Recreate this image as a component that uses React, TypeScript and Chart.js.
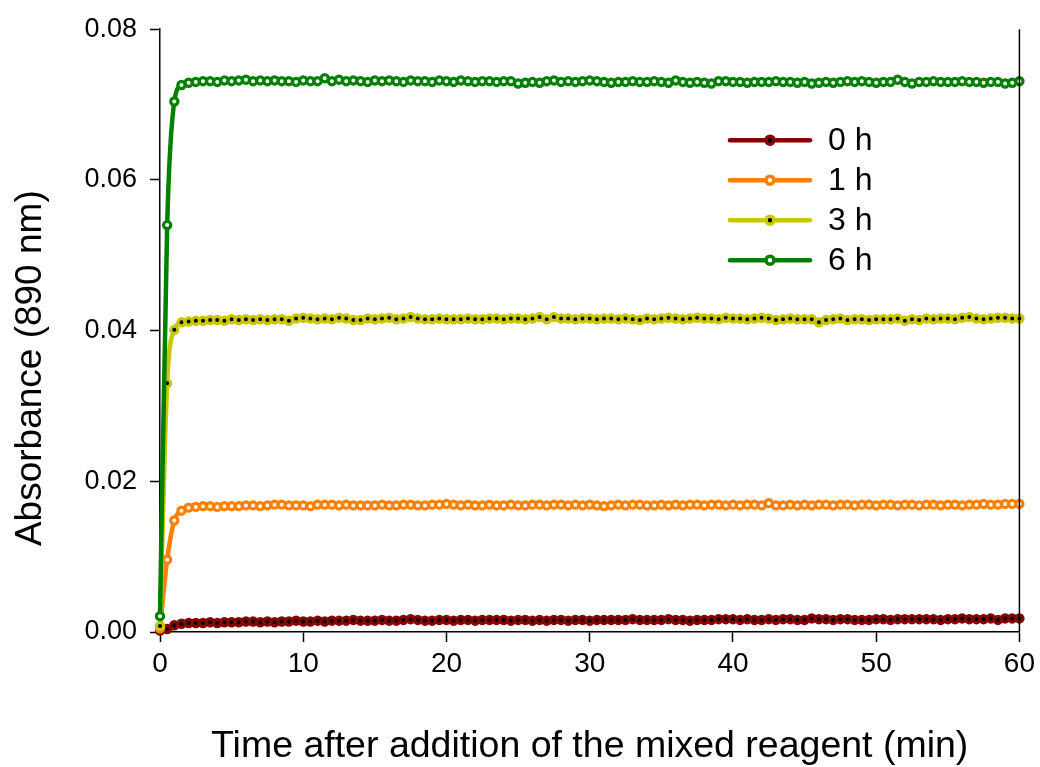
import React, { useEffect, useRef } from "react";
import { Chart, registerables } from "chart.js";

Chart.register(...registerables);

const times: number[] = [
  0, 0.5, 1, 1.5, 2, 2.5, 3, 3.5, 4, 4.5,
  5, 5.5, 6, 6.5, 7, 7.5, 8, 8.5, 9, 9.5,
  10, 10.5, 11, 11.5, 12, 12.5, 13, 13.5, 14, 14.5,
  15, 15.5, 16, 16.5, 17, 17.5, 18, 18.5, 19, 19.5,
  20, 20.5, 21, 21.5, 22, 22.5, 23, 23.5, 24, 24.5,
  25, 25.5, 26, 26.5, 27, 27.5, 28, 28.5, 29, 29.5,
  30, 30.5, 31, 31.5, 32, 32.5, 33, 33.5, 34, 34.5,
  35, 35.5, 36, 36.5, 37, 37.5, 38, 38.5, 39, 39.5,
  40, 40.5, 41, 41.5, 42, 42.5, 43, 43.5, 44, 44.5,
  45, 45.5, 46, 46.5, 47, 47.5, 48, 48.5, 49, 49.5,
  50, 50.5, 51, 51.5, 52, 52.5, 53, 53.5, 54, 54.5,
  55, 55.5, 56, 56.5, 57, 57.5, 58, 58.5, 59, 59.5,
  60,
];

const h0: number[] = [
  0.0002, 0.0004, 0.0009, 0.0011, 0.0012, 0.0012, 0.0012, 0.0013, 0.0012, 0.0013,
  0.0013, 0.0013, 0.0014, 0.0014, 0.0013, 0.0014, 0.0013, 0.0014, 0.0014, 0.0015,
  0.0014, 0.0014, 0.0015, 0.0014, 0.0015, 0.0015, 0.0015, 0.0016, 0.0015, 0.0015,
  0.0015, 0.0016, 0.0015, 0.0015, 0.0016, 0.0017, 0.0016, 0.0015, 0.0015, 0.0016,
  0.0016, 0.0015, 0.0016, 0.0016, 0.0015, 0.0016, 0.0016, 0.0016, 0.0016, 0.0015,
  0.0016, 0.0016, 0.0015, 0.0016, 0.0015, 0.0016, 0.0016, 0.0015, 0.0016, 0.0016,
  0.0015, 0.0016, 0.0016, 0.0016, 0.0016, 0.0016, 0.0017, 0.0016, 0.0016, 0.0016,
  0.0016, 0.0017, 0.0016, 0.0016, 0.0015, 0.0016, 0.0016, 0.0016, 0.0017, 0.0017,
  0.0017, 0.0016, 0.0017, 0.0016, 0.0016, 0.0017, 0.0016, 0.0017, 0.0017, 0.0016,
  0.0016, 0.0018, 0.0017, 0.0017, 0.0016, 0.0017, 0.0017, 0.0016, 0.0016, 0.0016,
  0.0017, 0.0017, 0.0016, 0.0017, 0.0017, 0.0017, 0.0017, 0.0017, 0.0017, 0.0016,
  0.0017, 0.0017, 0.0018, 0.0017, 0.0017, 0.0017, 0.0018, 0.0016, 0.0018, 0.0018,
  0.0018,
];

const h1: number[] = [
  0.0005, 0.0096, 0.0148, 0.0161, 0.0165, 0.0166, 0.0167, 0.0167, 0.0166, 0.0167,
  0.0167, 0.0167, 0.0168, 0.0168, 0.0167, 0.0168, 0.0169, 0.0169, 0.0168, 0.0168,
  0.0168, 0.0167, 0.0169, 0.0169, 0.0169, 0.0168, 0.0169, 0.0168, 0.0168, 0.0168,
  0.0168, 0.0169, 0.0168, 0.0168, 0.0169, 0.0169, 0.0168, 0.0168, 0.0169, 0.0169,
  0.0170, 0.0169, 0.0168, 0.0169, 0.0168, 0.0168, 0.0169, 0.0168, 0.0168, 0.0169,
  0.0168, 0.0168, 0.0169, 0.0169, 0.0168, 0.0169, 0.0169, 0.0168, 0.0169, 0.0168,
  0.0169, 0.0168, 0.0167, 0.0168, 0.0169, 0.0168, 0.0169, 0.0169, 0.0168, 0.0168,
  0.0169, 0.0168, 0.0169, 0.0168, 0.0169, 0.0169, 0.0168, 0.0169, 0.0169, 0.0168,
  0.0169, 0.0168, 0.0169, 0.0169, 0.0168, 0.0171, 0.0168, 0.0168, 0.0169, 0.0168,
  0.0169, 0.0168, 0.0169, 0.0169, 0.0168, 0.0169, 0.0169, 0.0168, 0.0169, 0.0169,
  0.0168, 0.0169, 0.0169, 0.0168, 0.0169, 0.0169, 0.0168, 0.0169, 0.0169, 0.0168,
  0.0169, 0.0169, 0.0168, 0.0169, 0.0169, 0.0170, 0.0169, 0.0169, 0.0170, 0.0170,
  0.0170,
];

const h3: number[] = [
  0.0008, 0.0330, 0.0401, 0.0411, 0.0412, 0.0413, 0.0413, 0.0414, 0.0414, 0.0413,
  0.0415, 0.0414, 0.0415, 0.0414, 0.0415, 0.0414, 0.0415, 0.0415, 0.0413, 0.0416,
  0.0417, 0.0416, 0.0415, 0.0416, 0.0415, 0.0417, 0.0416, 0.0414, 0.0414, 0.0416,
  0.0415, 0.0416, 0.0417, 0.0415, 0.0416, 0.0418, 0.0416, 0.0415, 0.0415, 0.0416,
  0.0415, 0.0415, 0.0415, 0.0416, 0.0415, 0.0415, 0.0416, 0.0416, 0.0415, 0.0416,
  0.0416, 0.0415, 0.0416, 0.0418, 0.0415, 0.0418, 0.0416, 0.0416, 0.0415, 0.0416,
  0.0416, 0.0415, 0.0416, 0.0416, 0.0415, 0.0416, 0.0415, 0.0414, 0.0416, 0.0415,
  0.0416, 0.0417, 0.0416, 0.0415, 0.0416, 0.0417, 0.0416, 0.0416, 0.0415, 0.0417,
  0.0416, 0.0416, 0.0415, 0.0416, 0.0417, 0.0416, 0.0414, 0.0415, 0.0416, 0.0415,
  0.0415, 0.0415, 0.0411, 0.0414, 0.0415, 0.0416, 0.0414, 0.0415, 0.0415, 0.0414,
  0.0415, 0.0415, 0.0415, 0.0416, 0.0413, 0.0415, 0.0414, 0.0416, 0.0415, 0.0416,
  0.0416, 0.0415, 0.0417, 0.0418, 0.0416, 0.0415, 0.0416, 0.0417, 0.0417, 0.0416,
  0.0416,
];

const h6: number[] = [
  0.0021, 0.0540, 0.0704, 0.0726, 0.0729, 0.0730, 0.0731, 0.0731, 0.0730, 0.0732,
  0.0731, 0.0732, 0.0733, 0.0731, 0.0732, 0.0731, 0.0732, 0.0731, 0.0731, 0.0730,
  0.0732, 0.0731, 0.0731, 0.0735, 0.0731, 0.0733, 0.0731, 0.0732, 0.0731, 0.0730,
  0.0732, 0.0731, 0.0732, 0.0731, 0.0730, 0.0732, 0.0731, 0.0731, 0.0730, 0.0732,
  0.0731, 0.0730, 0.0732, 0.0731, 0.0730, 0.0731, 0.0731, 0.0730, 0.0731, 0.0731,
  0.0728, 0.0729, 0.0730, 0.0729, 0.0731, 0.0732, 0.0730, 0.0731, 0.0730, 0.0731,
  0.0732, 0.0731, 0.0730, 0.0729, 0.0730, 0.0730, 0.0731, 0.0730, 0.0730, 0.0731,
  0.0730, 0.0729, 0.0732, 0.0730, 0.0729, 0.0730, 0.0729, 0.0728, 0.0731, 0.0731,
  0.0730, 0.0730, 0.0729, 0.0730, 0.0730, 0.0730, 0.0731, 0.0730, 0.0730, 0.0729,
  0.0730, 0.0728, 0.0729, 0.0730, 0.0729, 0.0730, 0.0731, 0.0730, 0.0731, 0.0730,
  0.0729, 0.0730, 0.0730, 0.0733, 0.0730, 0.0728, 0.0730, 0.0730, 0.0731, 0.0730,
  0.0730, 0.0730, 0.0731, 0.0730, 0.0730, 0.0729, 0.0730, 0.0730, 0.0728, 0.0729,
  0.0731,
];

const seriesLabels = ["0 h", "1 h", "3 h", "6 h"];
const seriesColors = ["#880000", "#FF8000", "#C8C800", "#008000"];
const seriesCenters = ["#000000", "#FFFFFF", "#000000", "#FFFFFF"];
const seriesValues = [h0, h1, h3, h6];

const xTicks = [0, 10, 20, 30, 40, 50, 60];
const yTicks = [0, 0.02, 0.04, 0.06, 0.08];
const yTitle = "Absorbance (890 nm)";

const FONT = "'Liberation Sans', Arial, Helvetica, sans-serif";

const frameAndLegend = {
  id: "frameAndLegend",
  afterDraw(chart: any) {
    const { ctx, chartArea } = chart;
    ctx.save();
    // right frame line
    ctx.strokeStyle = "#000";
    ctx.lineWidth = 1.5;
    ctx.beginPath();
    ctx.moveTo(chartArea.right, chartArea.top);
    ctx.lineTo(chartArea.right, chartArea.bottom);
    ctx.stroke();
    // y axis title (placed slightly below axis centre as in the original)
    ctx.save();
    ctx.translate(31, chartArea.top + 339);
    ctx.rotate(-Math.PI / 2);
    ctx.font = `37px ${FONT}`;
    ctx.fillStyle = "#000";
    ctx.textAlign = "center";
    ctx.textBaseline = "middle";
    ctx.fillText(yTitle, 0, 0);
    ctx.restore();
    // legend
    const x0 = chartArea.left + 570;
    const x1 = chartArea.left + 650;
    const xm = (x0 + x1) / 2;
    const tx = chartArea.left + 668;
    const y0 = chartArea.top + 111;
    const dy = 40;
    ctx.font = `32px ${FONT}`;
    ctx.textBaseline = "middle";
    ctx.textAlign = "left";
    seriesLabels.forEach((lab, i) => {
      const y = y0 + i * dy;
      ctx.strokeStyle = seriesColors[i];
      ctx.lineWidth = 4.5;
      ctx.lineCap = "round";
      ctx.beginPath();
      ctx.moveTo(x0, y);
      ctx.lineTo(x1, y);
      ctx.stroke();
      ctx.beginPath();
      ctx.arc(xm, y, 4, 0, Math.PI * 2);
      ctx.fillStyle = seriesCenters[i];
      ctx.fill();
      ctx.lineWidth = 3.6;
      ctx.strokeStyle = seriesColors[i];
      ctx.stroke();
      ctx.fillStyle = "#000";
      ctx.fillText(lab, tx, y + 1);
    });
    ctx.restore();
  },
};

export default function App() {
  const canvasRef = useRef<HTMLCanvasElement | null>(null);

  useEffect(() => {
    document.body.style.margin = "0";
    const canvas = canvasRef.current;
    if (!canvas) return;
    const drawOrder = [3, 2, 1, 0];
    const chart = new Chart(canvas, {
      type: "line",
      data: {
        datasets: seriesValues.map((vals, i) => ({
          label: seriesLabels[i],
          data: vals.map((v, j) => ({ x: times[j], y: v })),
          borderColor: seriesColors[i],
          backgroundColor: seriesCenters[i],
          pointBorderColor: seriesColors[i],
          pointBackgroundColor: seriesCenters[i],
          borderWidth: 4.5,
          pointRadius: 3.6,
          pointBorderWidth: 3.2,
          pointHoverRadius: 3.6,
          cubicInterpolationMode: "monotone" as const,
          fill: false,
          clip: false as any,
          order: drawOrder[i],
        })),
      },
      plugins: [frameAndLegend],
      options: {
        responsive: false,
        animation: false,
        maintainAspectRatio: false,
        layout: { padding: { top: 25, right: 16, left: 0, bottom: 0 } },
        plugins: {
          legend: { display: false },
          tooltip: { enabled: false },
        },
        scales: {
          x: {
            type: "linear",
            min: 0,
            max: 60,
            afterFit: (axis: any) => {
              axis.height = 135;
            },
            afterBuildTicks: (axis: any) => {
              axis.ticks = xTicks.map((v) => ({ value: v }));
            },
            ticks: {
              color: "#000",
              font: { family: FONT, size: 28 },
              padding: 5,
              maxRotation: 0,
              callback: (v: any) => String(v),
            },
            grid: {
              drawOnChartArea: false,
              drawTicks: true,
              tickLength: 10,
              tickWidth: 1.5,
              tickColor: "#000",
            },
            border: { display: true, color: "#000", width: 1.5 },
            title: {
              display: true,
              text: "Time after addition of the mixed reagent (min)",
              color: "#000",
              font: { family: FONT, size: 37.5, lineHeight: 1.1 },
              padding: { top: 0, bottom: 0 },
            },
          },
          y: {
            type: "linear",
            min: 0,
            max: 0.08,
            afterFit: (axis: any) => {
              axis.width = 160;
            },
            afterBuildTicks: (axis: any) => {
              axis.ticks = yTicks.map((v) => ({ value: v }));
            },
            ticks: {
              color: "#000",
              font: { family: FONT, size: 27 },
              padding: 13,
              callback: (v: any) => Number(v).toFixed(2),
            },
            grid: {
              drawOnChartArea: false,
              drawTicks: true,
              tickLength: 10,
              tickWidth: 1.5,
              tickColor: "#000",
            },
            border: { display: true, color: "#000", width: 1.5 },
            title: { display: false },
          },
        },
      },
    } as any);
    return () => chart.destroy();
  }, []);

  return (
    <div style={{ position: "absolute", left: 0, top: 0, width: 1040, height: 767, background: "#fff" }}>
      <canvas ref={canvasRef} width={1040} height={767} style={{ width: 1040, height: 767, display: "block" }} />
    </div>
  );
}
